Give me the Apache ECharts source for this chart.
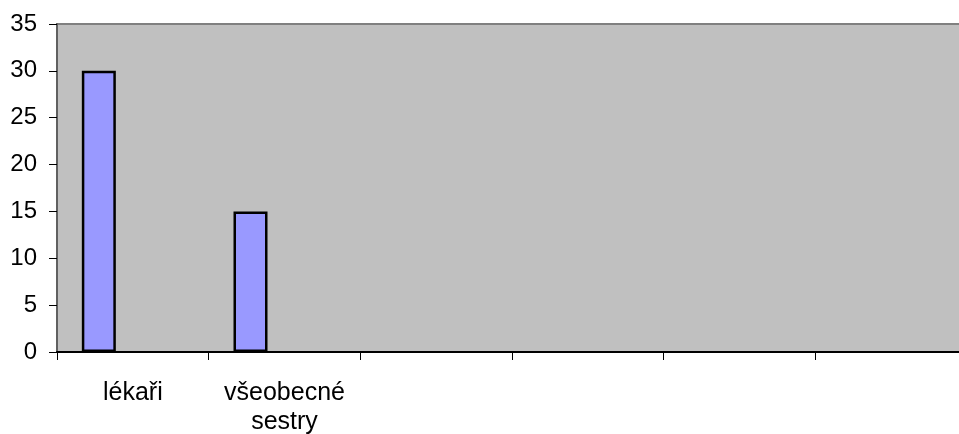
<!DOCTYPE html>
<html><head><meta charset="utf-8">
<script src="https://cdn.jsdelivr.net/npm/echarts@6/dist/echarts.min.js"></script>
<style>html,body{margin:0;padding:0;background:#fff}#c{width:959px;height:434px}</style>
</head><body><div id="c"></div>
<script>
const categories = ['lékaři', 'všeobecné sestry', '', '', '', ''];
const series1 = [30, 15, null, null, null, null];
const series2 = [null, null, null, null, null, null];
const series3 = [null, null, null, null, null, null];
const yMin = 0, yMax = 35, yStep = 5;

const chart = echarts.init(document.getElementById('c'), null, {renderer: 'canvas'});
const barStyle = {color: '#9999ff', borderColor: '#000', borderWidth: 2.5};
const font = 'Liberation Sans, Arial, sans-serif';
chart.setOption({
  animation: false,
  grid: {left: 57, top: 24, height: 328, width: 910, outerBoundsMode: 'none', containLabel: false,
    show: true, backgroundColor: '#c0c0c0', borderColor: '#808080', borderWidth: 2},
  xAxis: {
    type: 'category', data: categories,
    axisLine: {show: true, lineStyle: {color: '#000', width: 2}},
    axisTick: {show: true, alignWithLabel: false, length: 8, lineStyle: {color: '#000', width: 1}},
    axisLabel: {interval: 0, margin: 27, fontSize: 25, lineHeight: 29, color: '#000', fontFamily: font,
      formatter: v => v.replace(' ', '\n')},
    splitLine: {show: false}
  },
  yAxis: {
    type: 'value', min: yMin, max: yMax, interval: yStep,
    axisLine: {show: true, lineStyle: {color: '#606060', width: 2}},
    axisTick: {show: true, length: 8, lineStyle: {color: '#000', width: 1}},
    axisLabel: {margin: 20, fontSize: 24, color: '#000', fontFamily: font},
    splitLine: {show: false}
  },
  series: [
    {type: 'bar', data: series1, barWidth: 34, barGap: '0%', itemStyle: barStyle},
    {type: 'bar', data: series2, barWidth: 34, itemStyle: barStyle},
    {type: 'bar', data: series3, barWidth: 34, itemStyle: barStyle}
  ]
});
</script></body></html>
